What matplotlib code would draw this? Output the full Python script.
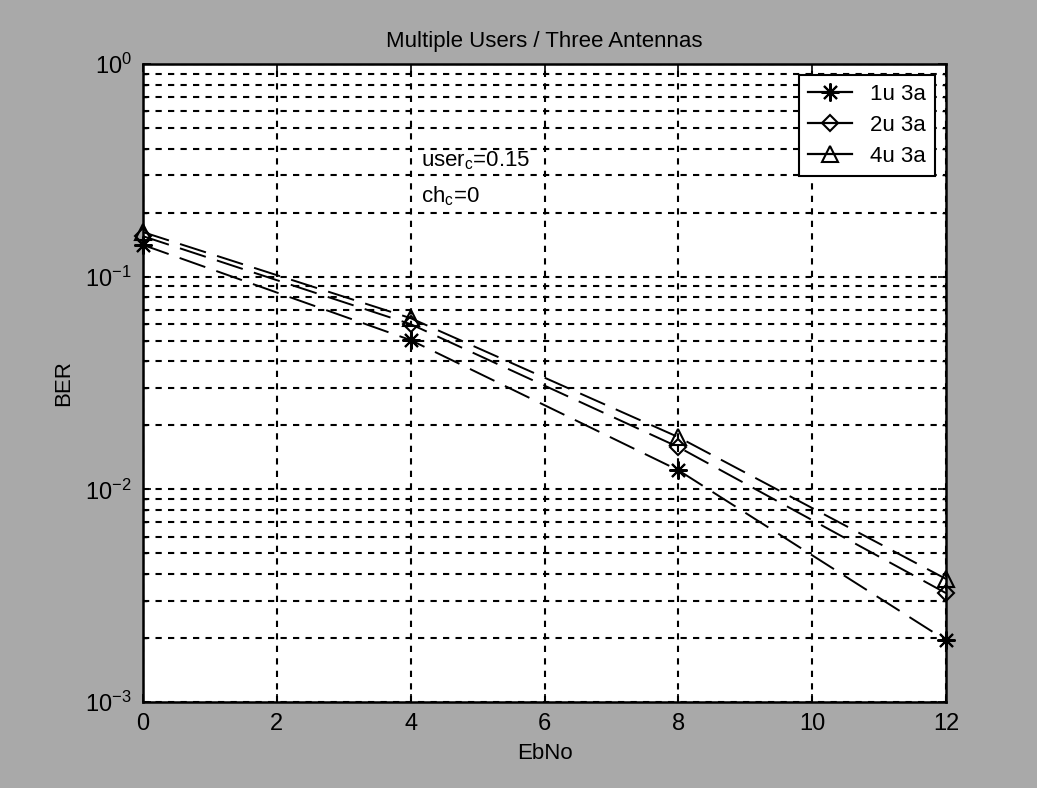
import numpy as np
import matplotlib
matplotlib.use("Agg")
from matplotlib import pyplot as plt
from matplotlib.lines import Line2D

plt.rcParams["font.family"] = ["Liberation Sans", "DejaVu Sans"]
plt.rcParams["mathtext.fontset"] = "custom"
plt.rcParams["mathtext.rm"] = "Liberation Sans"
plt.rcParams["mathtext.it"] = "Liberation Sans"

# Data
ebno = [0, 4, 8, 12]
ber_1u = [0.141, 0.0503, 0.0123, 0.00195]
ber_2u = [0.155, 0.0598, 0.0158, 0.00325]
ber_4u = [0.162, 0.0638, 0.0176, 0.00379]
labels = ["1u 3a", "2u 3a", "4u 3a"]

# MATLAB-like markers: asterisk, diamond, triangle
markers = [(8, 2, 0), "D", "^"]
sizes = [13, 8, 11]

bg = "#a9a9a9"
fig = plt.figure(figsize=(10.37, 7.88), dpi=100, facecolor=bg)
ax = fig.add_axes([143 / 1037, 1 - 702 / 788, 803 / 1037, 638 / 788])
ax.set_facecolor("white")

for y, m, ms in zip([ber_1u, ber_2u, ber_4u], markers, sizes):
    ax.semilogy(ebno, y, color="black", lw=1.4, dashes=(14, 6), marker=m,
                ms=ms, mfc="none", mec="black", mew=1.5, clip_on=False,
                zorder=3)

ax.set_xlim(0, 12)
ax.set_ylim(1e-3, 1)
ax.set_xticks(range(0, 13, 2))
ax.grid(True, which="both", color="black", linestyle=(0, (3, 3)), lw=1.5)
ax.tick_params(which="both", direction="in", top=True, right=True,
               labelsize=17, pad=8)
ax.tick_params(which="major", length=6, width=1.2)
ax.tick_params(which="minor", length=3, width=1.0)
for s in ax.spines.values():
    s.set_linewidth(1.8)

ax.set_title("Multiple Users / Three Antennas", fontsize=16, pad=12)
ax.set_xlabel("EbNo", fontsize=16, labelpad=6)
ax.set_ylabel("BER", fontsize=16, labelpad=8)

ax.text(4.15, 0.35, r"user$_{\rm c}$=0.15", fontsize=16, va="center")
ax.text(4.15, 0.24, r"ch$_{\rm c}$=0", fontsize=16, va="center")

handles = [Line2D([], [], color="black", lw=1.6, marker=m, ms=ms,
                  mfc="none", mec="black", mew=1.5)
           for m, ms in zip(markers, sizes)]
leg = ax.legend(handles, labels, loc="upper right", fontsize=16,
                fancybox=False, edgecolor="black", framealpha=1,
                handlelength=2.0, borderaxespad=0.5, labelspacing=0.45)
leg.get_frame().set_linewidth(1.5)

fig.savefig("out.png", dpi=100, facecolor=bg)
